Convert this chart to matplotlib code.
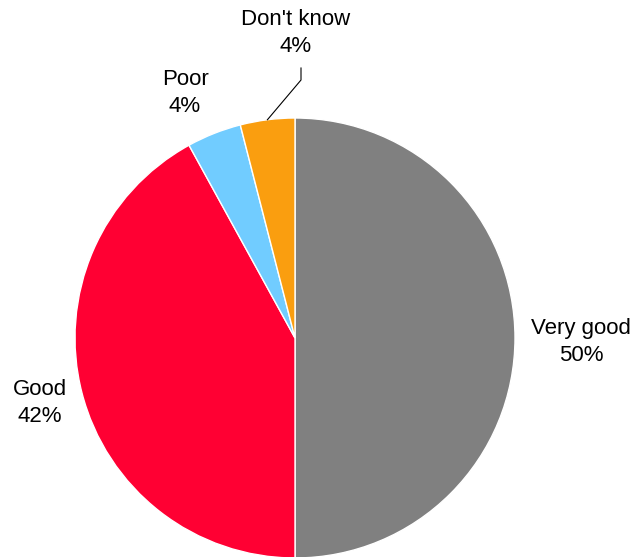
import numpy as np
import matplotlib.pyplot as plt

plt.rcParams['font.family'] = ['Liberation Sans', 'DejaVu Sans']

labels = ['Very good', 'Good', 'Poor', "Don't know"]
values = [50, 42, 4, 4]
colors = ['#808080', '#FF0033', '#71CCFF', '#FA9E0F']

fig = plt.figure(figsize=(6.39, 5.57), dpi=100)
ax = fig.add_axes([0, 0, 1, 1])

cx, cy, r = 295, 219, 220
wedges, _ = ax.pie(values, colors=colors, startangle=90, counterclock=False,
                   center=(cx, cy), radius=r, frame=True,
                   wedgeprops=dict(edgecolor='white', linewidth=1))
ax.set_xlim(0, 639)
ax.set_ylim(0, 557)
ax.axis('off')

# label positions (pixels)
pos = [(581, 215), (40, 154), (185, 464), (296, 524)]
for lab, v, (x, y) in zip(labels, values, pos):
    ax.text(x, y, '%s\n%d%%' % (lab, v), ha='center', va='center',
            fontsize=16, linespacing=1.33)

# leader line for the small slice
w = wedges[3]
ang = np.deg2rad((w.theta1 + w.theta2) / 2)
ex, ey = cx + r * np.cos(ang), cy + r * np.sin(ang)
ax.plot([ex, 301, 301], [ey, 477, 489], color='black', lw=0.8)

fig.savefig('out.png', dpi=100)
